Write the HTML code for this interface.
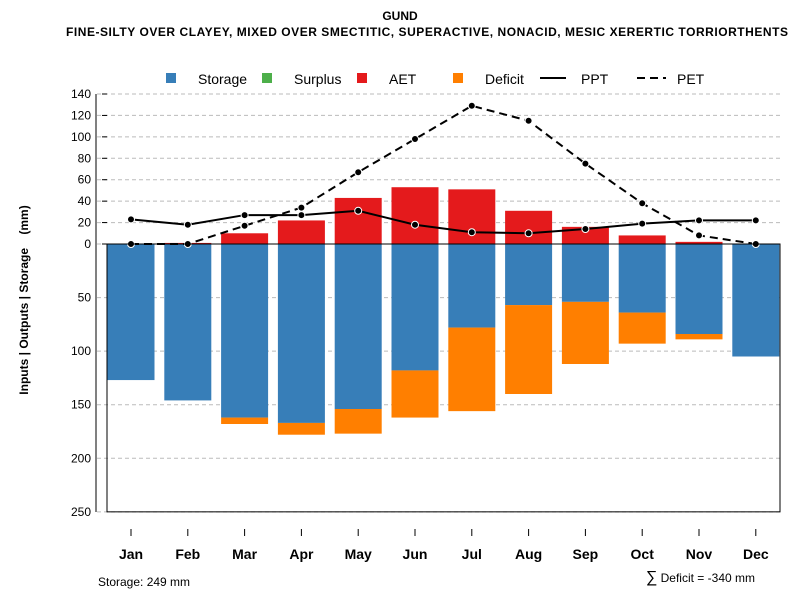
<!DOCTYPE html>
<html><head><meta charset="utf-8"><style>
body{margin:0;background:#fff}
svg text{font-family:"Liberation Sans",sans-serif}
</style></head><body>
<svg id="c" width="800" height="600" xmlns="http://www.w3.org/2000/svg">
<text x="400" y="20" text-anchor="middle" font-size="12" font-weight="bold">GUND</text>
<text x="66" y="36" textLength="722" lengthAdjust="spacing" font-size="12" font-weight="bold">FINE-SILTY OVER CLAYEY, MIXED OVER SMECTITIC, SUPERACTIVE, NONACID, MESIC XERERTIC TORRIORTHENTS</text>
<g>
<rect x="166" y="73" width="10" height="10" fill="#377eb8"/>
<text x="198" y="84" font-size="14">Storage</text>
<rect x="262" y="73" width="10" height="10" fill="#4daf4a"/>
<text x="294" y="84" font-size="14">Surplus</text>
<rect x="357" y="73" width="10" height="10" fill="#e41a1c"/>
<text x="389" y="84" font-size="14">AET</text>
<rect x="453" y="73" width="10" height="10" fill="#ff7f00"/>
<text x="485" y="84" font-size="14">Deficit</text>
<line x1="540" y1="78" x2="566" y2="78" stroke="#000" stroke-width="2"/>
<text x="581" y="84" font-size="14">PPT</text>
<line x1="637" y1="78" x2="666" y2="78" stroke="#000" stroke-width="2" stroke-dasharray="8,5"/>
<text x="677" y="84" font-size="14">PET</text>
</g>
<g id="grid"></g><g id="bars"></g><g id="lines"></g><g id="axes"></g>
<text transform="translate(28,300) rotate(-90)" text-anchor="middle" font-size="12" font-weight="bold" xml:space="preserve" style="white-space:pre">Inputs | Outputs | Storage    (mm)</text>
<text x="98" y="586" font-size="12">Storage: 249 mm</text>
<text x="755" y="582" text-anchor="end" font-size="12"><tspan font-size="16">∑</tspan> Deficit = -340 mm</text>
</svg>
<script>
const months=["Jan","Feb","Mar","Apr","May","Jun","Jul","Aug","Sep","Oct","Nov","Dec"];
const storage=[127,146,162,167,154,118,78,57,54,64,84,105];
const deficit=[0,0,6,11,23,44,78,83,58,29,5,0];
const aet=[0,1,10,22,43,53,51,31,16,8,2,0];
const ppt=[23,18,27,27,31,18,11,10,14,19,22,22];
const pet=[0,0,17,34,67,98,129,115,75,38,8,0];
const posTicks=[0,20,40,60,80,100,120,140];
const negTicks=[50,100,150,200,250];
const NS="http://www.w3.org/2000/svg";
const y0=244,k=1.0714;
function Y(v){return y0-v*k;}
function X(i){return 131+i*56.8;}
function mk(p,t,a){const e=document.createElementNS(NS,t);for(const q in a)e.setAttribute(q,a[q]);document.getElementById(p).appendChild(e);return e;}
posTicks.forEach(v=>{
 const g=mk('grid','line',{x1:97,x2:780,y1:Y(v),y2:Y(v),stroke:'#bbb','stroke-dasharray':'4,3'});
 
 
 const t=mk('axes','text',{x:91,y:Y(v)+4,'text-anchor':'end','font-size':12});t.textContent=v;
 
 
 mk('axes','line',{x1:102,x2:107,y1:Y(v),y2:Y(v),stroke:'#000'});
});
negTicks.forEach(v=>{
 const g=mk('grid','line',{x1:97,x2:780,y1:Y(-v),y2:Y(-v),stroke:'#bbb','stroke-dasharray':'4,3'});
 
 
 const t=mk('axes','text',{x:91,y:Y(-v)+4,'text-anchor':'end','font-size':12});t.textContent=v;
 
 
});
mk('axes','line',{x1:96,x2:96,y1:94,y2:512,stroke:'#000'});
mk('axes','rect',{x:107,y:y0,width:673,height:Y(-250)-y0,fill:'none',stroke:'#000'});
const bw=47;
months.forEach((m,i)=>{
 const x=X(i)-bw/2;
 const s=mk('bars','rect',{x:x,y:y0,width:bw,height:storage[i]*k,fill:'#377eb8'});
 
 
 if(deficit[i]>0){const d=mk('bars','rect',{x:x,y:Y(-storage[i]),width:bw,height:deficit[i]*k,fill:'#ff7f00'});
 
 }
 if(aet[i]>0){const a=mk('bars','rect',{x:x,y:Y(aet[i]),width:bw,height:aet[i]*k,fill:'#e41a1c'});
 
 }
 mk('axes','line',{x1:X(i),x2:X(i),y1:529,y2:536,stroke:'#000'});
 const t=mk('axes','text',{x:X(i),y:559,'text-anchor':'middle','font-size':14,'font-weight':'bold'});t.textContent=m;
 
 
});
mk('bars','line',{x1:107,x2:780,y1:y0,y2:y0,stroke:'#000'});
function series(arr,dash,name){
 const p=mk('lines','polyline',{points:arr.map((v,i)=>X(i)+','+Y(v)).join(' '),fill:'none',stroke:'#000','stroke-width':2,'stroke-dasharray':dash});
 
 
 arr.forEach((v,i)=>{const c=mk('lines','circle',{cx:X(i),cy:Y(v),r:3.5,fill:'#000',stroke:'#fff','stroke-width':1});
 
 });
}
series(ppt,'none','ppt');
series(pet,'8,5','pet');
</script>
</body></html>
